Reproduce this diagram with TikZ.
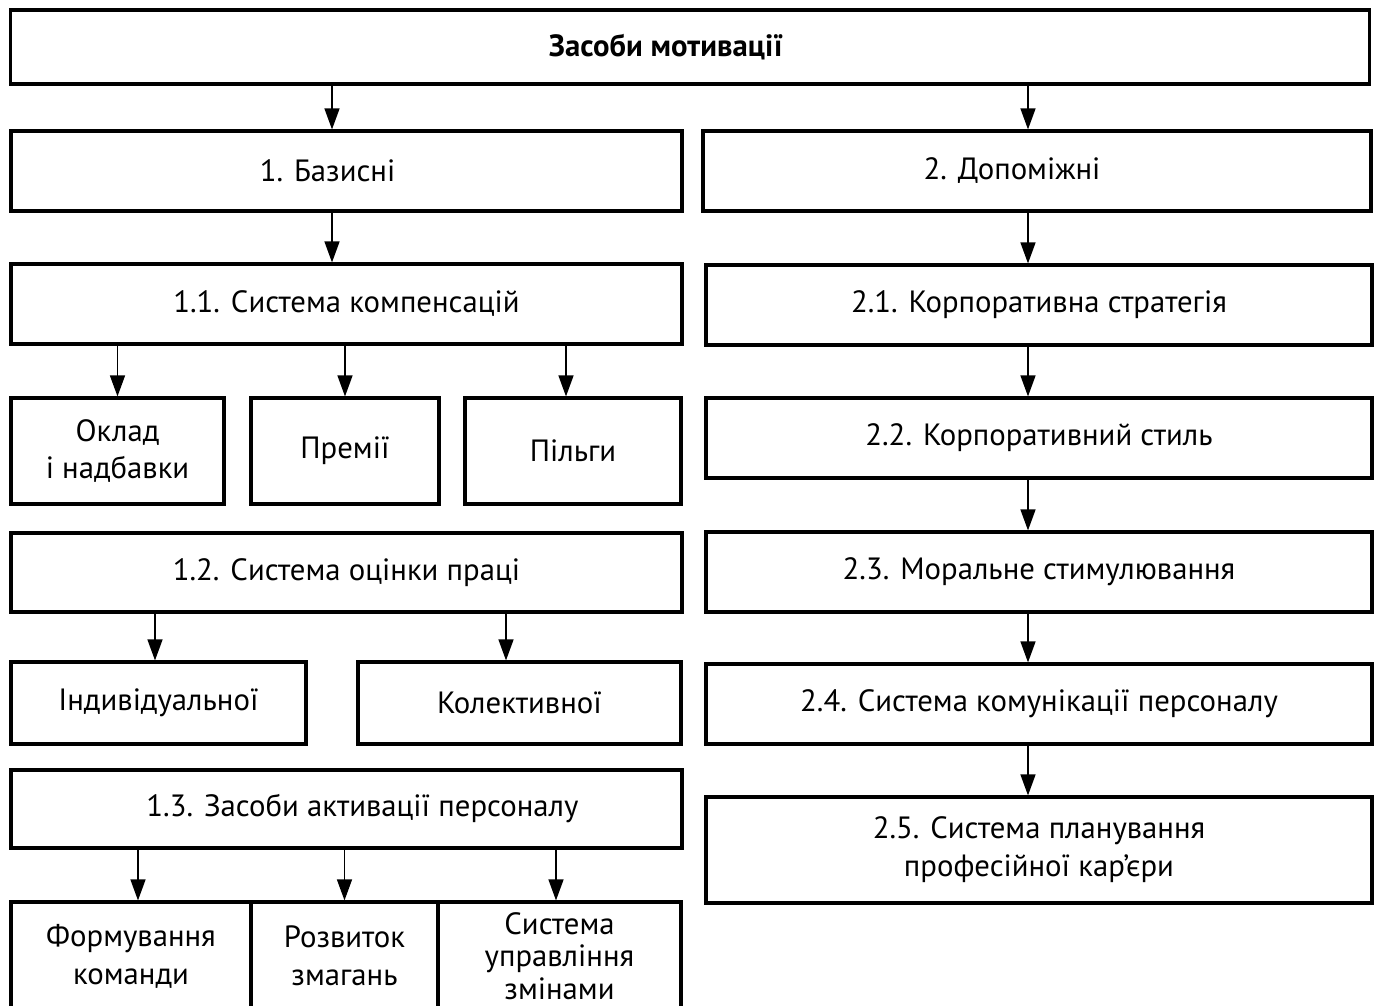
\documentclass[tikz,border=0pt]{standalone}
\usepackage{fontspec}
\setmainfont{PT Sans}
\usetikzlibrary{arrows.meta}

\tikzset{
	blk/.style={draw, line width=1.8pt, inner sep=2pt, align=center, font=\fontsize{17.5}{21.5}\selectfont},
	arr/.style={line width=0.8pt, -{Triangle[length=0.42cm,width=0.3cm]}},
}

\begin{document}
\begin{tikzpicture}[x=0.02cm, y=-0.02cm]
	\useasboundingbox (0,0) rectangle (1374,1006);
	\clip (0,0) rectangle (1374,1006);
	\node[blk, minimum width=27.2cm, minimum height=1.48cm, font=\fontsize{17.5}{21.5}\selectfont\bfseries] (top) at (690,47) {Засоби мотивації\hspace*{0.96cm}};
	% left column
	\node[blk, minimum width=13.42cm, minimum height=1.6cm] (basic) at (346.5,171) {1. Базисні\hspace*{0.76cm}};
	\node[blk, minimum width=13.42cm, minimum height=1.6cm] (comp) at (346.5,304) {1.1. Система компенсацій};
	\node[blk, minimum width=4.26cm, minimum height=2.12cm] (salary) at (117.5,451) {Оклад\\і надбавки};
	\node[blk, minimum width=3.76cm, minimum height=2.12cm] (bonus) at (345,451) {Премії};
	\node[blk, minimum width=4.32cm, minimum height=2.12cm] (perks) at (573,451) {Пільги};
	\node[blk, minimum width=13.42cm, minimum height=1.58cm] (eval) at (346.5,572.5) {1.2. Система оцінки праці};
	\node[blk, minimum width=5.9cm, minimum height=1.64cm] (indiv) at (158.5,703) {Індивідуальної};
	\node[blk, minimum width=6.46cm, minimum height=1.64cm] (collect) at (519.5,703) {Колективної};
	\node[blk, minimum width=13.42cm, minimum height=1.56cm] (activ) at (346.5,809) {\hspace*{0.64cm}1.3. Засоби активації персоналу};
	\node[blk, minimum width=4.8cm, minimum height=2.16cm] (team) at (131,956) {Формування\\команди};
	\node[blk, minimum width=3.74cm, minimum height=2.16cm] (compet) at (344.5,956) {Розвиток\\змагань};
	\node[blk, minimum width=4.86cm, minimum height=2.16cm, inner sep=0pt, font=\fontsize{17.5}{18.5}\selectfont] (change) at (559.5,956) {Система\\управління\\змінами};
	% right column
	\node[blk, minimum width=13.36cm, minimum height=1.6cm] (aux) at (1037,171) {2. Допоміжні\hspace*{1cm}};
	\node[blk, minimum width=13.32cm, minimum height=1.6cm] (strat) at (1039,305) {2.1. Корпоративна стратегія};
	\node[blk, minimum width=13.32cm, minimum height=1.6cm] (cstyle) at (1039,438) {2.2. Корпоративний стиль};
	\node[blk, minimum width=13.32cm, minimum height=1.6cm] (moral) at (1039,572) {2.3. Моральне стимулювання};
	\node[blk, minimum width=13.32cm, minimum height=1.6cm] (commun) at (1039,704) {2.4. Система комунікації персоналу};
	\node[blk, minimum width=13.32cm, minimum height=2.12cm] (career) at (1039,850) {2.5. Система планування\\професійної кар’єри};
	% arrows
	\draw[arr] ([xshift=-0.29cm]basic.north |- top.south) -- ([xshift=-0.29cm]basic.north);
	\draw[arr] ([xshift=-0.18cm]aux.north |- top.south) -- ([xshift=-0.18cm]aux.north);
	\draw[arr] ([xshift=-0.29cm]comp.north |- basic.south) -- ([xshift=-0.29cm]comp.north);
	\draw[arr] (salary.north |- comp.south) -- (salary.north);
	\draw[arr] (bonus.north |- comp.south) -- (bonus.north);
	\draw[arr] ([xshift=-0.14cm]perks.north |- comp.south) -- ([xshift=-0.14cm]perks.north);
	\draw[arr] ([xshift=-0.07cm]indiv.north |- eval.south) -- ([xshift=-0.07cm]indiv.north);
	\draw[arr] ([xshift=-0.27cm]collect.north |- eval.south) -- ([xshift=-0.27cm]collect.north);
	\draw[arr] ([xshift=0.14cm]team.north |- activ.south) -- ([xshift=0.14cm]team.north);
	\draw[arr] (compet.north |- activ.south) -- (compet.north);
	\draw[arr] ([xshift=-0.07cm]change.north |- activ.south) -- ([xshift=-0.07cm]change.north);
	\draw[arr] ([xshift=-0.22cm]strat.north |- aux.south) -- ([xshift=-0.22cm]strat.north);
	\draw[arr] ([xshift=-0.22cm]cstyle.north |- strat.south) -- ([xshift=-0.22cm]cstyle.north);
	\draw[arr] ([xshift=-0.22cm]moral.north |- cstyle.south) -- ([xshift=-0.22cm]moral.north);
	\draw[arr] ([xshift=-0.22cm]commun.north |- moral.south) -- ([xshift=-0.22cm]commun.north);
	\draw[arr] ([xshift=-0.22cm]career.north |- commun.south) -- ([xshift=-0.22cm]career.north);
\end{tikzpicture}
\end{document}
